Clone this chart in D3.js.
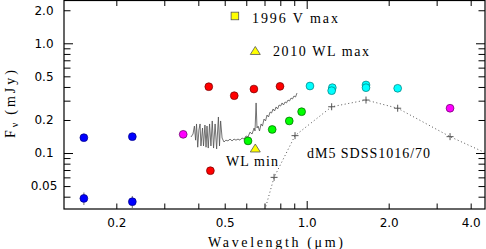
<!DOCTYPE html>
<html>
<head>
<meta charset="utf-8">
<script src="https://cdn.jsdelivr.net/npm/d3@7"></script>
<style>
body{margin:0;background:#fff}
text{fill:#000}
</style>
</head>
<body>
<svg id="chart" width="486" height="249"></svg>
<script>
// photometry, wavelength in micron, flux in mJy
const uvWave = [0.152, 0.229, 0.152, 0.229]
const uvFlux = [0.138, 0.141, 0.0386, 0.0360]
const uvErr = [0, 0, 0.005, 0.0045]

const magWave = [0.352, 3.36]
const magFlux = [0.148, 0.256]

const redWave = [0.437, 0.542, 0.640, 0.798, 0.443]
const redFlux = [0.402, 0.333, 0.383, 0.405, 0.069]

const greenWave = [0.609, 0.747, 0.863, 0.958]
const greenFlux = [0.129, 0.164, 0.196, 0.238]

const cyanWave = [1.028, 1.242, 1.235, 1.651, 1.651, 2.158]
const cyanFlux = [0.408, 0.394, 0.370, 0.417, 0.394, 0.389]

const vmaxWave = [0.545]
const vmaxFlux = [1.774]
const wlWave = [0.6475, 0.6475]
const wlFlux = [0.851, 0.110]

// dM5 template (SDSS1016/70)
const modelWave = [0.62, 0.759, 0.906, 1.235, 1.651, 2.158, 3.36, 4.6]
const modelFlux = [0.0102, 0.060, 0.144, 0.264, 0.304, 0.256, 0.141, 0.0987]

// WL min spectrum
const specWave = [0.376, 0.3825, 0.387, 0.391, 0.394, 0.398, 0.402, 0.406, 0.409, 0.4145,
  0.418, 0.423, 0.427, 0.4305, 0.435, 0.440, 0.445, 0.450, 0.455, 0.461,
  0.467, 0.474, 0.4785, 0.483, 0.489, 0.497, 0.505, 0.514, 0.523, 0.532,
  0.541, 0.550, 0.5595, 0.569, 0.579, 0.589, 0.599, 0.609, 0.619, 0.630,
  0.641, 0.646, 0.652, 0.657, 0.663, 0.671, 0.680, 0.688, 0.697, 0.706,
  0.715, 0.724, 0.734, 0.743, 0.7525, 0.762, 0.772, 0.782, 0.792, 0.802,
  0.812, 0.822, 0.833, 0.843, 0.854, 0.865, 0.876, 0.887, 0.898, 0.910, 0.921]
const specFlux = [0.140, 0.149, 0.176, 0.131, 0.184, 0.113, 0.162, 0.184, 0.116, 0.169,
  0.116, 0.180, 0.113, 0.176, 0.111, 0.184, 0.116, 0.196, 0.111, 0.184,
  0.109, 0.213, 0.116, 0.196, 0.137, 0.126, 0.131, 0.129, 0.134, 0.129,
  0.134, 0.131, 0.134, 0.131, 0.137, 0.134, 0.143, 0.140, 0.155, 0.149,
  0.169, 0.159, 0.286, 0.169, 0.176, 0.159, 0.184, 0.176, 0.204, 0.196,
  0.222, 0.213, 0.2365, 0.2315, 0.252, 0.2415, 0.263, 0.252, 0.274, 0.268,
  0.286, 0.274, 0.292, 0.286, 0.304, 0.298, 0.317, 0.311, 0.331, 0.324, 0.352]

const xLabelVals = [0.2, 0.5, 1.0, 2.0, 4.0]
const xLabels = ["0.2", "0.5", "1.0", "2.0", "4.0"]
const yLabelVals = [0.05, 0.1, 0.2, 0.5, 1.0, 2.0]
const yLabels = ["0.05", "0.1", "0.2", "0.5", "1.0", "2.0"]
const xMinor = [0.2, 0.3, 0.4, 0.5, 0.6, 0.7, 0.8, 0.9, 2, 3, 4]
const xMajor = [1.0]
const yMinor = [0.04, 0.05, 0.06, 0.07, 0.08, 0.09, 0.2, 0.3, 0.4, 0.5, 0.6, 0.7, 0.8, 0.9, 2.0]
const yMajor = [0.1, 1.0]

const pLeft = 64, pRight = 485, pTop = 0, pBottom = 209

const svg = d3.select("#chart")

const x = d3.scaleLog().domain([0.1285, 4.515]).range([pLeft, pRight])
const y = d3.scaleLog().domain([0.0309, 2.48]).range([pBottom, pTop])

svg.append("clipPath").attr("id", "plotclip")
  .append("rect").attr("x", pLeft).attr("y", pTop)
  .attr("width", pRight - pLeft).attr("height", pBottom - pTop)

// tick marks, all pointing inward
function tickGroup(axis, tr, vals, size){
  const g = svg.append("g").attr("transform", tr)
    .call(axis.tickValues(vals).tickSize(size).tickFormat(""))
  g.select(".domain").remove()
  g.selectAll("line").attr("stroke", "#000").attr("stroke-width", 1)
}
tickGroup(d3.axisBottom(x), `translate(0,${pBottom})`, xMinor, -5.5)
tickGroup(d3.axisBottom(x), `translate(0,${pBottom})`, xMajor, -8)
tickGroup(d3.axisTop(x), `translate(0,${pTop})`, xMinor, -6)
tickGroup(d3.axisTop(x), `translate(0,${pTop})`, xMajor, -9)
tickGroup(d3.axisLeft(y), `translate(${pLeft},0)`, yMinor, -6.5)
tickGroup(d3.axisLeft(y), `translate(${pLeft},0)`, yMajor, -9)
tickGroup(d3.axisRight(y), `translate(${pRight},0)`, yMinor, -6.5)
tickGroup(d3.axisRight(y), `translate(${pRight},0)`, yMajor, -9)

// tick labels
const xl = svg.append("g").attr("transform", `translate(0,${pBottom})`)
  .call(d3.axisBottom(x).tickValues(xLabelVals).tickSize(0).tickPadding(9)
    .tickFormat((d, i) => xLabels[i]))
xl.select(".domain").remove()
xl.selectAll("text").attr("font-family", "DejaVu Sans").attr("font-size", 12).attr("fill", "#000")

const yl = svg.append("g").attr("transform", `translate(${pLeft},0)`)
  .call(d3.axisLeft(y).tickValues(yLabelVals).tickSize(0)
    .tickFormat((d, i) => yLabels[i]))
yl.select(".domain").remove()
yl.selectAll("text").attr("font-family", "DejaVu Sans").attr("font-size", 12)
  .attr("fill", "#000").attr("text-anchor", "middle").attr("x", 44 - pLeft)

// frame
svg.append("rect").attr("x", pLeft).attr("y", pTop + 0.5)
  .attr("width", pRight - pLeft).attr("height", pBottom - pTop - 0.5)
  .attr("fill", "none").attr("stroke", "#000").attr("stroke-width", 1.2)

const plot = svg.append("g").attr("clip-path", "url(#plotclip)")

// model template, dotted
const modelPts = modelWave.map((w, i) => [w, modelFlux[i]])
plot.append("path").datum(modelPts)
  .attr("d", d3.line().x(d => x(d[0])).y(d => y(d[1])))
  .attr("fill", "none").attr("stroke", "#555").attr("stroke-width", 1)
  .attr("stroke-dasharray", "1,2.6")

plot.selectAll(".plus").data(modelPts.slice(1, 7)).join("path")
  .attr("class", "plus")
  .attr("d", d => {
    const cx = x(d[0]), cy = y(d[1])
    return `M${cx-3.5},${cy}H${cx+3.5}M${cx},${cy-3.5}V${cy+3.5}`
  })
  .attr("stroke", "#555").attr("stroke-width", 1)

// spectrum
const specPts = specWave.map((w, i) => [w, specFlux[i]])
plot.append("path").datum(specPts)
  .attr("d", d3.line().x(d => x(d[0])).y(d => y(d[1])))
  .attr("fill", "none").attr("stroke", "#505050").attr("stroke-width", 0.8)
  .attr("stroke-linejoin", "round")

// error bars on uv points
const uvPts = uvWave.map((w, i) => ({w: w, f: uvFlux[i], e: uvErr[i]}))
plot.selectAll(".err").data(uvPts.filter(d => d.e > 0)).join("line")
  .attr("class", "err")
  .attr("x1", d => x(d.w)).attr("x2", d => x(d.w))
  .attr("y1", d => y(d.f - d.e)).attr("y2", d => y(d.f + d.e))
  .attr("stroke", "#888").attr("stroke-width", 1.2)

function dots(wave, flux, fill, stroke){
  plot.append("g").selectAll("circle")
    .data(wave.map((w, i) => [w, flux[i]])).join("circle")
    .attr("cx", d => x(d[0])).attr("cy", d => y(d[1])).attr("r", 3.9)
    .attr("fill", fill).attr("stroke", stroke).attr("stroke-width", 0.7)
}
dots(uvWave, uvFlux, "#0000ff", "#000080")
dots(magWave, magFlux, "#ff00ff", "#600060")
dots(redWave, redFlux, "#ff0000", "#700000")
dots(greenWave, greenFlux, "#00ff00", "#006000")
dots(cyanWave, cyanFlux, "#00ffff", "#007a7a")

// 1996 V max square
plot.selectAll(".sq").data(vmaxWave.map((w, i) => [w, vmaxFlux[i]])).join("rect")
  .attr("class", "sq")
  .attr("x", d => x(d[0]) - 3.8).attr("y", d => y(d[1]) - 3.8)
  .attr("width", 7.6).attr("height", 7.6)
  .attr("fill", "#ffff00").attr("stroke", "#555").attr("stroke-width", 0.8)

// 2010 WL triangles
plot.selectAll(".tri").data(wlWave.map((w, i) => [w, wlFlux[i]])).join("path")
  .attr("class", "tri")
  .attr("d", d => {
    const cx = x(d[0]), cy = y(d[1])
    return `M${cx-5},${cy+3.5}L${cx+5},${cy+3.5}L${cx},${cy-4.5}Z`
  })
  .attr("fill", "#ffff00").attr("stroke", "#555").attr("stroke-width", 0.8)

// annotations
const serif = "Liberation Serif"
function note(tx, ty, str, len){
  svg.append("text").attr("x", tx).attr("y", ty).text(str)
    .attr("font-family", serif).attr("font-size", 14)
    .attr("textLength", len).attr("lengthAdjust", "spacing")
}
note(252, 22.5, "1996 V max", 86)
note(273, 55.5, "2010 WL max", 96)
note(226, 165.5, "WL min", 52)
note(307, 157.5, "dM5 SDSS1016/70", 123)

// axis titles
svg.append("text").attr("x", 208).attr("y", 247)
  .attr("font-family", serif).attr("font-size", 14)
  .attr("textLength", 135).attr("lengthAdjust", "spacing")
  .text("Wavelength (\u03bcm)")

const yt = svg.append("text")
  .attr("transform", "translate(15,138) rotate(-90)")
  .attr("font-family", serif).attr("font-size", 14)
  .attr("textLength", 68).attr("lengthAdjust", "spacing")
yt.append("tspan").text("F")
yt.append("tspan").attr("font-size", 10).attr("dy", 3).text("\u03bd")
yt.append("tspan").attr("dy", -3).attr("dx", 5).text("(mJy)")
</script>
</body>
</html>
